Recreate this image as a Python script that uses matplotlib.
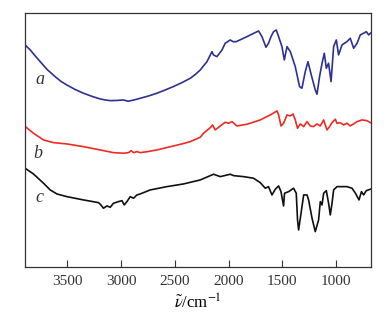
import matplotlib
matplotlib.use("Agg")
import matplotlib.pyplot as plt

plt.rcParams['font.family'] = ['Liberation Serif', 'DejaVu Serif']
plt.rcParams['mathtext.fontset'] = 'stix'

# Curve a (blue)
wn_a = [3885, 3847, 3800, 3754, 3690, 3615, 3560, 3506, 3430, 3351, 3270, 3196, 3150, 3102, 3040,
        2981, 2935, 2880, 2822, 2745, 2668, 2590, 2516, 2435, 2357, 2310,
        2264, 2202, 2155, 2141, 2109, 2062, 2032, 1985, 1960, 1929, 1830, 1722, 1690, 1653,
        1629, 1606, 1582, 1557, 1535, 1504, 1482, 1457, 1426, 1380, 1340, 1318, 1287, 1262,
        1231, 1194, 1178, 1154, 1131, 1110, 1091, 1070, 1047, 1023, 998, 977, 945, 899, 868,
        837, 805, 775, 744, 719, 697, 681]
int_a = [221, 217, 211, 205.3, 197.5, 190.3, 185.5, 182, 177.5, 173.7, 170.5, 168, 167, 166.3, 166.5,
         167, 165.7, 167, 168.7, 171, 173.7, 177, 180.3, 184.3, 188.7, 192.5,
         197, 205.3, 215.3, 212, 210.3, 217, 223.7, 227, 225.3, 225.3, 230.3, 236, 230.3, 219.7,
         223.7, 230.3, 235.3, 237, 230.3, 220.3, 207, 220.3, 215.3, 200.3, 180.3, 178.7, 195.3, 205.3,
         192, 177, 172.7, 190.3, 203.7, 213.7, 198.7, 203.7, 185.3, 220.3, 227, 212, 222, 225.3, 228.7,
         218.7, 223.7, 232, 233.7, 235.3, 232, 233.7]

# Curve b (red)
wn_b = [3885, 3817, 3723, 3630, 3506, 3351, 3196, 3072, 2979, 2932, 2907, 2885, 2854, 2823,
        2745, 2668, 2590, 2513, 2435, 2358, 2264, 2234, 2171, 2150, 2125, 2078, 2032, 2001, 1969, 1923, 1830,
        1706, 1613, 1550, 1535, 1513, 1489, 1457, 1426, 1401, 1380, 1359, 1333, 1302, 1271,
        1240, 1210, 1178, 1147, 1116, 1085, 1061, 1038, 1007, 992, 961, 930, 899, 868, 837,
        805, 759, 713, 681]
int_b = [139.7, 133.7, 127, 124.3, 123, 120.3, 117, 114.3, 113.7, 114.3, 116.3, 114.3, 115.3, 114.3,
         115.5, 117, 119, 121, 123, 125.3, 129.7, 133.7, 139.3, 142, 137, 141, 144.7, 143.7, 145.3, 141, 142.7,
         147, 152, 156, 152, 141, 143.7, 152, 151, 153, 147, 138.7, 143, 140.3, 145.3,
         141, 140.3, 143, 141, 147, 137, 140.3, 144.3, 147.7, 143.7, 144.3, 142, 143.7, 141, 143,
         145.3, 147, 146.3, 144.3]

# Curve c (black)
wn_c = [3894, 3817, 3723, 3661, 3599, 3506, 3351, 3211, 3189, 3165, 3133, 3102, 3072, 3025,
        2993, 2972, 2947, 2916, 2885, 2854, 2823, 2730, 2575, 2420, 2264, 2171, 2141, 2078,
        1985, 1954, 1861, 1768, 1706, 1659, 1629, 1597, 1566, 1535, 1513, 1489, 1480, 1442,
        1396, 1371, 1359, 1349, 1333, 1302, 1271, 1256, 1224, 1194, 1163, 1147, 1131, 1116,
        1091, 1070, 1054, 1038, 1023, 992, 899, 852, 820, 787, 764, 744, 719, 681]
int_c = [98.7, 93, 83.7, 77, 73, 70.3, 67, 64.3, 62, 58.7, 61, 59.7, 63.7, 65.3,
         66.3, 62, 65.3, 70.3, 68.7, 72, 73, 77, 80.3, 83, 87, 91.3, 92.7, 90.3,
         92.7, 91.3, 90.3, 88.7, 84.3, 78.7, 80.3, 72, 77.7, 81, 75.3, 61, 73.7, 75.3,
         78.7, 73.7, 47, 37, 48.7, 72, 72, 67, 48.7, 35.3, 47, 65.3, 62, 73.7,
         76.3, 63.7, 52, 63.7, 77, 80.3, 80.3, 78.7, 73.7, 67, 75.3, 72, 76.3, 77.7]

labels = ['a', 'b', 'c']
label_x = [3755, 3780, 3760]
label_y = [187, 113, 69]
colors = ['#2e3192', '#ee2a24', '#111111']
tick_vals = [3500, 3000, 2500, 2000, 1500, 1000]

fig = plt.figure(figsize=(3.87, 3.32), dpi=100)
ax = fig.add_axes([0.065, 0.196, 0.894, 0.765])

for wn, iv, col in zip([wn_a, wn_b, wn_c], [int_a, int_b, int_c], colors):
    ax.plot(wn, iv, color=col, lw=1.2, solid_joinstyle='round')

for lab, lx, ly in zip(labels, label_x, label_y):
    ax.text(lx, ly, lab, fontsize=13, style='italic', ha='center', va='center', color='#333333')

ax.set_xlim(3894, 674)
ax.set_ylim(0, 254)
ax.set_xticks(tick_vals)
ax.set_xticklabels([str(t) for t in tick_vals])
ax.set_yticks([])
ax.tick_params(axis='x', direction='in', length=5, width=0.8, labelsize=11, pad=6, colors='#333333')
for s in ax.spines.values():
    s.set_color('#333333')
    s.set_linewidth(0.9)
ax.set_xlabel(r'$\tilde{\nu}$/cm$^{-1}$', fontsize=12, labelpad=4)

fig.savefig('out.png', dpi=100)
